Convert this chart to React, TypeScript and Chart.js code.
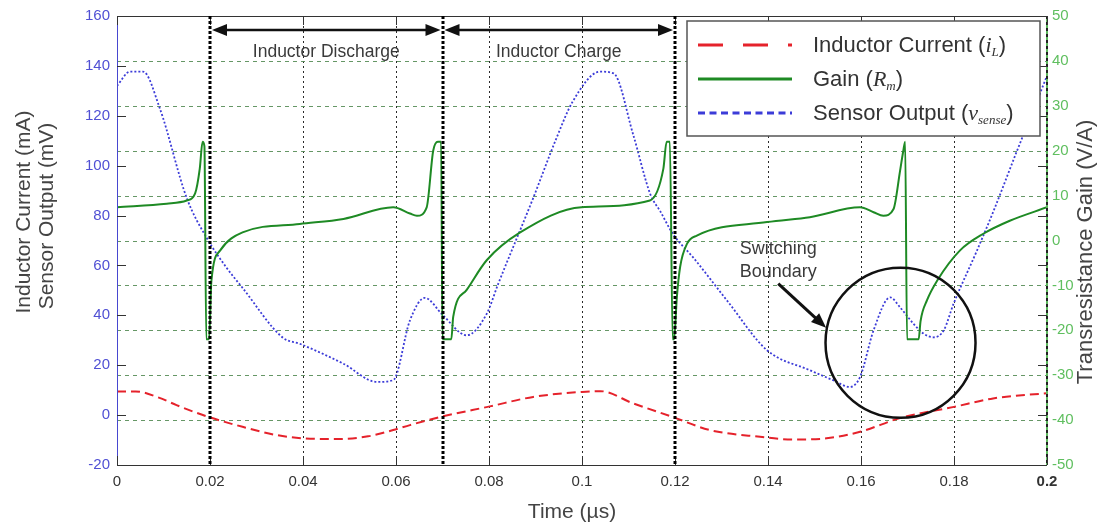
import React, { useEffect, useRef } from 'react';
import { Chart, registerables } from 'chart.js';

Chart.register(...registerables);

// ---------- data ----------
const currentTime = [0, 0.004, 0.009, 0.0128, 0.0193, 0.027, 0.0343, 0.04, 0.047, 0.054, 0.0594, 0.063, 0.0701, 0.0802, 0.0895, 0.1, 0.104, 0.111, 0.1196, 0.1275, 0.1383, 0.1454, 0.1526, 0.1598, 0.1684, 0.18, 0.1884, 0.2];
const currentValues = [9.5, 9.5, 7, 4, -0.5, -4.7, -8, -9.3, -9.6, -8.5, -6, -4, -0.5, 3.5, 7.3, 9.3, 9.6, 4.7, -0.8, -6, -8.7, -9.8, -9.3, -6.7, -1.2, 3.3, 6.7, 8.8];

const gainTime = [0, 0.0107, 0.015, 0.0168, 0.0178, 0.0184, 0.0188, 0.0192, 0.0198, 0.0203, 0.0222, 0.027, 0.0393, 0.0487, 0.0594, 0.063, 0.0645, 0.0666, 0.068, 0.069, 0.0697, 0.07, 0.0719, 0.0723, 0.0752, 0.0795, 0.0867, 0.0999, 0.1146, 0.1175, 0.1182, 0.1189, 0.1195, 0.1198, 0.1204, 0.1211, 0.1226, 0.1247, 0.1398, 0.149, 0.1598, 0.1627, 0.1648, 0.167, 0.1684, 0.1691, 0.1695, 0.1699, 0.1724, 0.1728, 0.1742, 0.1764, 0.1813, 0.1863, 0.192, 0.2];
const gainValues = [7.4, 8.2, 8.9, 10.5, 16, 22, 21, -22, -22, -9, -2.2, 1.8, 3.7, 4.8, 7.4, 6.0, 5.5, 7.4, 20, 22, 22, -22, -22, -17, -11, -4.4, 1.8, 7.4, 8.9, 16, 22, 22, -22, -22, -12.6, -5.9, -0.7, 1.1, 4.1, 5.2, 7.4, 6.3, 5.5, 7, 15.5, 20, 22, -22, -22, -18, -13.3, -8.9, -2.2, 1.5, 4.4, 7.4];

const sensorTime = [0, 0.0028, 0.0056, 0.0092, 0.015, 0.0193, 0.0236, 0.027, 0.0357, 0.0393, 0.0487, 0.0559, 0.0594, 0.063, 0.0662, 0.0701, 0.0752, 0.0795, 0.082, 0.0895, 0.0945, 0.098, 0.1039, 0.1068, 0.111, 0.1147, 0.1168, 0.1196, 0.124, 0.1312, 0.1398, 0.149, 0.154, 0.1576, 0.1598, 0.1627, 0.1663, 0.1684, 0.1713, 0.1735, 0.1756, 0.1778, 0.1799, 0.1849, 0.1885, 0.1935, 0.2];
const sensorValues = [132, 137.7, 137.7, 123, 87, 71, 59, 51, 31, 28.6, 20.6, 13.3, 14, 38, 47, 40, 32, 40.6, 52.7, 87, 111, 125.7, 137.7, 137, 112.5, 88.5, 81.8, 72.5, 63, 45.9, 26, 18, 14, 11.3, 15.3, 34, 47.2, 43.2, 36.6, 32.6, 31.2, 34, 44.6, 65.8, 81.8, 105.7, 136];

const timeTicks = [0, 0.02, 0.04, 0.06, 0.08, 0.1, 0.12, 0.14, 0.16, 0.18, 0.2];
const timeTickLabels = ['0', '0.02', '0.04', '0.06', '0.08', '0.1', '0.12', '0.14', '0.16', '0.18', '0.2'];
const leftTicks = [-20, 0, 20, 40, 60, 80, 100, 120, 140, 160];
const leftTickLabels = ['-20', '0', '20', '40', '60', '80', '100', '120', '140', '160'];
const rightTicks = [-50, -40, -30, -20, -10, 0, 10, 20, 30, 40, 50];
const rightTickLabels = ['-50', '-40', '-30', '-20', '-10', '0', '10', '20', '30', '40', '50'];

const boundaryTimes = [0.02, 0.07, 0.12];
const phaseLabels = ['Inductor Discharge', 'Inductor Charge'];
const phaseArrowLevel = 154.4; // mV (left axis)
const phaseLabelLevel = 143.7; // mV baseline
const circleCenter = { t: 0.1685, v: 29 };
const pointerFrom = { t: 0.1422, v: 52.7 };
const pointerTo = { t: 0.1525, v: 35 };
const switchingLines = ['Switching', 'Boundary'];
const switchingLevels = [64.6, 55.4];

// ---------- styling ----------
const SANS = '"Liberation Sans", Arial, Helvetica, sans-serif';
const SERIF = '"Liberation Serif", "Times New Roman", serif';
const RED = '#e5222b';
const GREEN = '#1e8a24';
const BLUE = '#3c3cd8';

function arrowHead(ctx: CanvasRenderingContext2D, x: number, y: number, ang: number, len: number, half: number) {
  ctx.beginPath();
  ctx.moveTo(x, y);
  ctx.lineTo(x - len * Math.cos(ang) + half * Math.sin(ang), y - len * Math.sin(ang) - half * Math.cos(ang));
  ctx.lineTo(x - len * Math.cos(ang) - half * Math.sin(ang), y - len * Math.sin(ang) + half * Math.cos(ang));
  ctx.closePath();
  ctx.fill();
}

type Part = { t: string; f: string; dy?: number };
function drawRich(ctx: CanvasRenderingContext2D, x: number, y: number, parts: Part[]) {
  let cx = x;
  for (const p of parts) {
    ctx.font = p.f;
    ctx.fillText(p.t, cx, y + (p.dy || 0));
    cx += ctx.measureText(p.t).width;
  }
}

const decorPlugin = {
  id: 'decor',
  beforeDatasetsDraw(chart: any) {
    const { ctx, chartArea: a, scales } = chart;
    const xs = scales.x;
    const y2 = scales.y2;
    ctx.save();
    ctx.fillStyle = '#ffffff';
    ctx.fillRect(a.left, a.top, a.right - a.left, a.bottom - a.top);
    // vertical dotted grid
    ctx.lineWidth = 1;
    ctx.strokeStyle = '#2a2a2a';
    ctx.setLineDash([2, 3]);
    timeTicks.forEach((t) => {
      if (t <= 0 || t >= 0.2) return;
      const px = Math.round(xs.getPixelForValue(t)) + 0.5;
      ctx.beginPath();
      ctx.moveTo(px, a.top);
      ctx.lineTo(px, a.bottom);
      ctx.stroke();
    });
    // horizontal dashed grid (right axis)
    ctx.strokeStyle = 'rgba(85,140,85,0.9)';
    ctx.setLineDash([4, 4]);
    rightTicks.forEach((v) => {
      if (v <= -50 || v >= 50) return;
      const py = Math.round(y2.getPixelForValue(v)) + 0.5;
      ctx.beginPath();
      ctx.moveTo(a.left, py);
      ctx.lineTo(a.right, py);
      ctx.stroke();
    });
    ctx.restore();
  },
  afterDatasetsDraw(chart: any) {
    const { ctx, chartArea: a, scales } = chart;
    const xs = scales.x;
    const ys = scales.y;
    const X = (t: number) => xs.getPixelForValue(t);
    const Y = (v: number) => ys.getPixelForValue(v);
    ctx.save();

    // borders
    ctx.setLineDash([]);
    ctx.lineWidth = 1;
    ctx.strokeStyle = '#333';
    ctx.beginPath();
    ctx.moveTo(a.left, a.top + 0.5);
    ctx.lineTo(a.right, a.top + 0.5);
    ctx.moveTo(a.left, a.bottom + 0.5);
    ctx.lineTo(a.right, a.bottom + 0.5);
    ctx.stroke();
    ctx.strokeStyle = '#4848d0';
    ctx.beginPath();
    ctx.moveTo(a.left + 0.5, a.top);
    ctx.lineTo(a.left + 0.5, a.bottom);
    ctx.stroke();
    ctx.strokeStyle = '#5cb85c';
    ctx.lineWidth = 2;
    ctx.beginPath();
    ctx.moveTo(a.right, a.top);
    ctx.lineTo(a.right, a.bottom);
    ctx.stroke();
    ctx.strokeStyle = '#222';
    ctx.setLineDash([3, 3]);
    ctx.beginPath();
    ctx.moveTo(a.right, a.top);
    ctx.lineTo(a.right, a.bottom);
    ctx.stroke();
    ctx.setLineDash([]);

    // inner tick marks
    ctx.lineWidth = 1;
    ctx.strokeStyle = '#333';
    ctx.beginPath();
    leftTicks.forEach((v) => {
      const py = Math.round(Y(v)) + 0.5;
      ctx.moveTo(a.left, py);
      ctx.lineTo(a.left + 9, py);
      ctx.moveTo(a.right - 9, py);
      ctx.lineTo(a.right, py);
    });
    timeTicks.forEach((t) => {
      const px = Math.round(X(t)) + 0.5;
      ctx.moveTo(px, a.top);
      ctx.lineTo(px, a.top + 9);
      ctx.moveTo(px, a.bottom);
      ctx.lineTo(px, a.bottom - 9);
    });
    ctx.stroke();

    // thick boundary lines
    ctx.lineWidth = 3;
    ctx.strokeStyle = '#000';
    ctx.setLineDash([3, 2]);
    boundaryTimes.forEach((t) => {
      const px = Math.round(X(t));
      ctx.beginPath();
      ctx.moveTo(px, a.top);
      ctx.lineTo(px, a.bottom);
      ctx.stroke();
    });
    ctx.setLineDash([]);

    // phase arrows
    ctx.fillStyle = '#111';
    ctx.strokeStyle = '#111';
    ctx.lineWidth = 2.5;
    const ay = Y(phaseArrowLevel);
    for (let i = 0; i < boundaryTimes.length - 1; i++) {
      const x1 = X(boundaryTimes[i]) + 2;
      const x2 = X(boundaryTimes[i + 1]) - 2;
      ctx.beginPath();
      ctx.moveTo(x1 + 10, ay);
      ctx.lineTo(x2 - 10, ay);
      ctx.stroke();
      arrowHead(ctx, x1, ay, Math.PI, 15, 6);
      arrowHead(ctx, x2, ay, 0, 15, 6);
      ctx.font = `17.5px ${SANS}`;
      ctx.fillStyle = '#3a3a3a';
      ctx.textAlign = 'center';
      ctx.textBaseline = 'alphabetic';
      ctx.fillText(phaseLabels[i], (X(boundaryTimes[i]) + X(boundaryTimes[i + 1])) / 2, Y(phaseLabelLevel));
      ctx.fillStyle = '#111';
    }

    // switching boundary circle + pointer
    ctx.lineWidth = 2.5;
    ctx.strokeStyle = '#111';
    ctx.beginPath();
    ctx.arc(X(circleCenter.t), Y(circleCenter.v), 75, 0, Math.PI * 2);
    ctx.stroke();
    const fx = X(pointerFrom.t), fy = Y(pointerFrom.v);
    const tx = X(pointerTo.t), ty = Y(pointerTo.v);
    const ang = Math.atan2(ty - fy, tx - fx);
    ctx.lineWidth = 3;
    ctx.beginPath();
    ctx.moveTo(fx, fy);
    ctx.lineTo(tx - 12 * Math.cos(ang), ty - 12 * Math.sin(ang));
    ctx.stroke();
    ctx.fillStyle = '#111';
    arrowHead(ctx, tx, ty, ang, 15, 6);
    ctx.fillStyle = '#3a3a3a';
    ctx.font = `18px ${SANS}`;
    ctx.textAlign = 'center';
    switchingLines.forEach((s, i) => ctx.fillText(s, fx, Y(switchingLevels[i])));

    // legend
    const lx = 687, ly = 21, lw = 353, lh = 115;
    ctx.fillStyle = '#fff';
    ctx.fillRect(lx, ly, lw, lh);
    ctx.strokeStyle = '#555';
    ctx.lineWidth = 1.5;
    ctx.strokeRect(lx, ly, lw, lh);
    const rows = [
      { color: RED, dash: [25, 20], y: 45, parts: [
        { t: 'Inductor Current (', f: `22px ${SANS}` },
        { t: 'i', f: `italic 22px ${SERIF}` },
        { t: 'L', f: `italic 13px ${SERIF}`, dy: 4 },
        { t: ')', f: `22px ${SANS}` },
      ] },
      { color: GREEN, dash: [], y: 79, parts: [
        { t: 'Gain (', f: `22px ${SANS}` },
        { t: 'R', f: `italic 22px ${SERIF}` },
        { t: 'm', f: `italic 13px ${SERIF}`, dy: 4 },
        { t: ')', f: `22px ${SANS}` },
      ] },
      { color: BLUE, dash: [7, 4.5], y: 113, parts: [
        { t: 'Sensor Output (', f: `22px ${SANS}` },
        { t: 'v', f: `italic 22px ${SERIF}` },
        { t: 'sense', f: `italic 13px ${SERIF}`, dy: 4 },
        { t: ')', f: `22px ${SANS}` },
      ] },
    ];
    rows.forEach((r) => {
      ctx.strokeStyle = r.color;
      ctx.lineWidth = 3;
      ctx.setLineDash(r.dash);
      ctx.beginPath();
      ctx.moveTo(698, r.y);
      ctx.lineTo(792, r.y);
      ctx.stroke();
      ctx.setLineDash([]);
      ctx.fillStyle = '#333';
      ctx.textAlign = 'left';
      ctx.textBaseline = 'alphabetic';
      drawRich(ctx, 813, r.y + 7, r.parts);
    });
    ctx.restore();
  },
  afterDraw(chart: any) {
    const { ctx } = chart;
    ctx.save();
    ctx.fillStyle = '#444';
    ctx.textAlign = 'center';
    ctx.textBaseline = 'middle';
    ctx.font = `21px ${SANS}`;
    const vtext = (s: string, x: number, y: number) => {
      ctx.save();
      ctx.translate(x, y);
      ctx.rotate(-Math.PI / 2);
      ctx.fillText(s, 0, 0);
      ctx.restore();
    };
    vtext('Inductor Current (mA)', 24, 212);
    vtext('Sensor Output (mV)', 47, 216);
    ctx.font = `22px ${SANS}`;
    vtext('Transresistance Gain (V/A)', 1086, 252);
    ctx.font = `21px ${SANS}`;
    ctx.fillText('Time (\u00b5s)', 572, 512);
    ctx.restore();
  },
};

export default function App() {
  const ref = useRef<HTMLCanvasElement>(null);
  useEffect(() => {
    const canvas = ref.current;
    if (!canvas) return;
    const pts = (xs: number[], ys: number[]) => xs.map((x, i) => ({ x, y: ys[i] }));
    const tickFont = (weightFn?: (c: any) => string) => (c: any) => ({
      size: 15,
      family: SANS,
      weight: weightFn ? weightFn(c) : 'normal',
    });
    const chart = new Chart(canvas, {
      type: 'line',
      data: {
        datasets: [
          {
            label: 'Inductor Current',
            data: pts(currentTime, currentValues),
            yAxisID: 'y',
            borderColor: RED,
            borderWidth: 2,
            borderDash: [9, 5],
            pointRadius: 0,
            cubicInterpolationMode: 'monotone',
            fill: false,
          },
          {
            label: 'Gain',
            data: pts(gainTime, gainValues),
            yAxisID: 'y2',
            borderColor: GREEN,
            borderWidth: 2,
            pointRadius: 0,
            cubicInterpolationMode: 'monotone',
            fill: false,
          },
          {
            label: 'Sensor Output',
            data: pts(sensorTime, sensorValues),
            yAxisID: 'y',
            borderColor: BLUE,
            borderWidth: 1.8,
            borderDash: [2, 2],
            pointRadius: 0,
            cubicInterpolationMode: 'monotone',
            fill: false,
          },
        ],
      },
      options: {
        responsive: false,
        animation: false,
        parsing: true,
        layout: { padding: { top: 14, left: 0, right: 0, bottom: 0 } },
        plugins: {
          legend: { display: false },
          tooltip: { enabled: false },
          title: { display: false },
        },
        scales: {
          x: {
            type: 'linear',
            min: 0,
            max: 0.2,
            afterBuildTicks: (s: any) => { s.ticks = timeTicks.map((v) => ({ value: v })); },
            afterFit: (s: any) => { s.height = 64; },
            grid: { display: false, drawTicks: false },
            border: { display: false },
            ticks: {
              padding: 8,
              color: '#333',
              autoSkip: false,
              maxRotation: 0,
              font: tickFont((c) => (c.index === timeTicks.length - 1 ? 'bold' : 'normal')),
              callback: (_v: any, i: number) => timeTickLabels[i],
            },
          },
          y: {
            type: 'linear',
            position: 'left',
            min: -20,
            max: 160,
            afterBuildTicks: (s: any) => { s.ticks = leftTicks.map((v) => ({ value: v })); },
            afterFit: (s: any) => { s.width = 117; },
            grid: { display: false, drawTicks: false },
            border: { display: false },
            ticks: {
              padding: 7,
              color: '#5050d4',
              font: tickFont(),
              callback: (_v: any, i: number) => leftTickLabels[i],
            },
          },
          y2: {
            type: 'linear',
            position: 'right',
            min: -50,
            max: 50,
            afterBuildTicks: (s: any) => { s.ticks = rightTicks.map((v) => ({ value: v })); },
            afterFit: (s: any) => { s.width = 56; },
            grid: { display: false, drawTicks: false },
            border: { display: false },
            ticks: {
              padding: 5,
              color: '#5fbf5f',
              font: tickFont(),
              callback: (_v: any, i: number) => rightTickLabels[i],
            },
          },
        },
      },
      plugins: [decorPlugin],
    } as any);
    return () => chart.destroy();
  }, []);
  return (
    <div style={{ position: 'absolute', left: 0, top: 0, width: 1103, height: 529, background: '#fff' }}>
      <canvas ref={ref} width={1103} height={529} style={{ display: 'block' }} />
    </div>
  );
}
